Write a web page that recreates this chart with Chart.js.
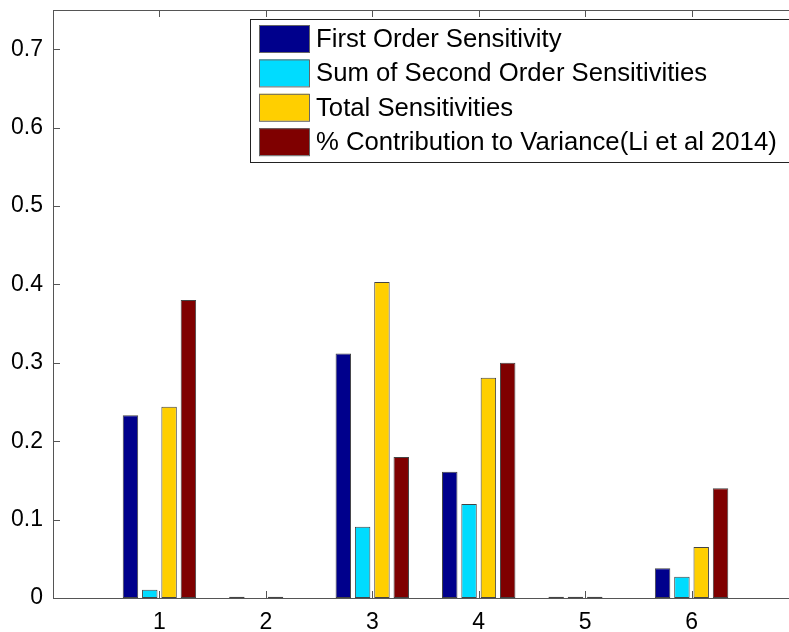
<!DOCTYPE html>
<html>
<head>
<meta charset="utf-8">
<script src="https://cdn.jsdelivr.net/npm/chart.js@4"></script>
<style>
  html, body { margin: 0; padding: 0; background: #fff; overflow: hidden; }
  #wrap { width: 789px; height: 632px; overflow: hidden; }
</style>
</head>
<body>
<div id="wrap"><canvas id="chart" width="800" height="632"></canvas></div>
<script>
const categories = [1, 2, 3, 4, 5, 6];
const firstOrder = [0.233, 0.0015, 0.312, 0.161, 0.0015, 0.038];
const sumSecondOrder = [0.0105, 0, 0.091, 0.120, 0.0015, 0.027];
const totalSens = [0.244, 0.0015, 0.403, 0.281, 0.0015, 0.065];
const contribVariance = [0.380, 0, 0.180, 0.300, 0, 0.140];
const yTicks = [0, 0.1, 0.2, 0.3, 0.4, 0.5, 0.6, 0.7];

const seriesNames = [
    'First Order Sensitivity',
    'Sum of Second Order Sensitivities',
    'Total Sensitivities',
    '% Contribution to Variance(Li et al 2014)'
];
const seriesColors = ['#00008c', '#00dcff', '#ffcf00', '#7f0000'];
const seriesValues = [firstOrder, sumSecondOrder, totalSens, contribVariance];

const FONT = 'Liberation Sans, Arial, Helvetica, sans-serif';

// MATLAB-style box, inward ticks and legend inside the axes
const matlabAxes = {
    id: 'matlabAxes',
    afterDatasetsDraw(chart) {
        const { ctx, chartArea: a, scales } = chart;
        ctx.save();
        ctx.strokeStyle = '#555';
        ctx.lineWidth = 1;
        ctx.strokeRect(a.left + 0.5, a.top + 0.5, a.right - a.left, a.bottom - a.top);
        const tl = 7;
        ctx.beginPath();
        yTicks.forEach(v => {
            const y = Math.round(scales.y.getPixelForValue(v)) + 0.5;
            ctx.moveTo(a.left, y); ctx.lineTo(a.left + tl, y);
            ctx.moveTo(a.right, y); ctx.lineTo(a.right - tl, y);
        });
        categories.forEach(c => {
            const x = Math.round(scales.x.getPixelForValue(c)) + 0.5;
            ctx.moveTo(x, a.bottom); ctx.lineTo(x, a.bottom - tl);
            ctx.moveTo(x, a.top); ctx.lineTo(x, a.top + tl);
        });
        ctx.stroke();

        // legend
        const lx = 250, ly = 19, lw = 540, lh = 143;
        ctx.fillStyle = '#fff';
        ctx.fillRect(lx, ly, lw, lh);
        ctx.strokeStyle = '#222';
        ctx.strokeRect(lx + 0.5, ly + 0.5, lw, lh);
        ctx.font = '25.7px ' + FONT;
        ctx.textBaseline = 'middle';
        ctx.textAlign = 'left';
        chart.data.datasets.forEach((ds, i) => {
            const sy = 25 + i * 34.4;
            ctx.fillStyle = ds.backgroundColor;
            ctx.fillRect(259, sy, 50, 27);
            ctx.strokeStyle = '#666';
            ctx.strokeRect(259.5, sy + 0.5, 50, 27);
            ctx.fillStyle = '#000';
            ctx.fillText(ds.label, 316, sy + 15);
        });
        ctx.restore();
    }
};

new Chart(document.getElementById('chart'), {
    type: 'bar',
    data: {
        datasets: seriesNames.map((name, i) => ({
            label: name,
            data: categories.map((c, j) => ({ x: c, y: seriesValues[i][j] })),
            backgroundColor: seriesColors[i],
            borderColor: '#444',
            borderWidth: 1,
            borderSkipped: false,
            categoryPercentage: 0.726,
            barPercentage: 0.8
        }))
    },
    options: {
        responsive: false,
        animation: false,
        layout: { padding: { top: 10, right: 2, left: 0, bottom: 0 } },
        plugins: {
            legend: { display: false },
            tooltip: { enabled: false }
        },
        scales: {
            x: {
                type: 'linear',
                min: 0,
                max: 7,
                offset: false,
                grid: { display: false, drawTicks: false },
                border: { display: false },
                ticks: {
                    stepSize: 1,
                    color: '#000',
                    font: { family: FONT, size: 23 },
                    padding: 11,
                    maxRotation: 0,
                    callback: v => (v >= 1 && v <= 6) ? String(v) : ''
                },
                afterFit: s => { s.height = 34; s.paddingLeft = 0; s.paddingRight = 0; }
            },
            y: {
                min: 0,
                max: 0.75,
                grid: { display: false, drawTicks: false },
                border: { display: false },
                ticks: {
                    stepSize: 0.1,
                    color: '#000',
                    font: { family: FONT, size: 23 },
                    padding: 10,
                    callback: v => v <= 0.7001 ? String(+v.toFixed(1)) : ''
                },
                afterFit: s => { s.width = 53; s.paddingTop = 0; s.paddingBottom = 0; }
            }
        }
    },
    plugins: [matlabAxes]
});
</script>
</body>
</html>
